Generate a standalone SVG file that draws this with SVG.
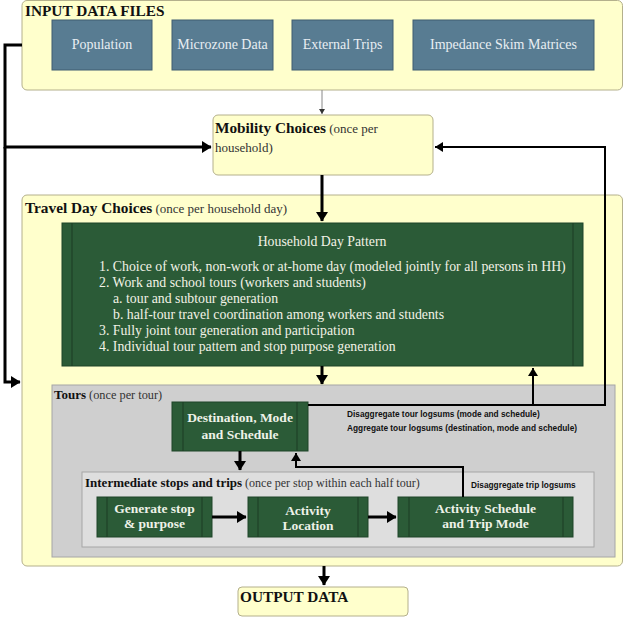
<svg xmlns="http://www.w3.org/2000/svg" width="624" height="617" viewBox="0 0 624 617">
<style>
.yel{fill:#FFFFCC;stroke:#B4B08C;stroke-width:1}
.blue{fill:#587C92;stroke:#3F5C70;stroke-width:1}
.grn{fill:#2B5B37;stroke:#1F4429;stroke-width:1}
.inner{stroke:#1C3D25;stroke-width:1}
.gray1{fill:#CFCFCF;stroke:#A6A6A6;stroke-width:1}
.gray2{fill:#DEDEDE;stroke:#A6A6A6;stroke-width:1}
.t{font-family:"Liberation Serif","Times New Roman",serif;font-size:15.3px;font-weight:bold;fill:#111}
.s{font-family:"Liberation Serif","Times New Roman",serif;font-size:13px;fill:#333}
.w{font-family:"Liberation Serif","Times New Roman",serif;font-size:13.8px;fill:#F2F2E6}
.wk{font-family:"Liberation Serif","Times New Roman",serif;font-size:13.5px;font-weight:bold;fill:#EEF2E8}
.wb{font-family:"Liberation Serif","Times New Roman",serif;font-size:14px;fill:#E8EEF2}
.lab{font-family:"Liberation Sans",Arial,sans-serif;font-size:8.3px;font-weight:bold;fill:#111}
.thick{stroke:#000;stroke-width:3;fill:none}
.med{stroke:#000;stroke-width:2;fill:none}
</style>
<defs>
<marker id="ah" markerWidth="4" markerHeight="4" refX="3" refY="2" orient="auto" markerUnits="strokeWidth">
<path d="M0,0 L3.2,2 L0,4 Z" fill="#000"/>
</marker>
<marker id="ahm" markerWidth="5" markerHeight="5" refX="4" refY="2.5" orient="auto" markerUnits="strokeWidth">
<path d="M0,0 L4,2.5 L0,5 Z" fill="#000"/>
</marker>
<marker id="ahs" markerWidth="6" markerHeight="6" refX="5" refY="3" orient="auto" markerUnits="strokeWidth">
<path d="M0,0 L5,3 L0,6 Z" fill="#333"/>
</marker>
</defs>

<g id="input-data-files">
<rect class="yel" x="22" y="0.5" width="600.5" height="89.5" rx="5"/>
<text class="t" x="25" y="16">INPUT DATA FILES</text>
</g>
<g id="population">
<rect class="blue" x="52" y="20" width="100" height="50"/>
<text class="wb" x="102" y="49" text-anchor="middle">Population</text>
</g>
<g id="microzone-data">
<rect class="blue" x="172" y="20" width="101" height="50"/>
<text class="wb" x="222.5" y="49" text-anchor="middle">Microzone Data</text>
</g>
<g id="external-trips">
<rect class="blue" x="292" y="20" width="101" height="50"/>
<text class="wb" x="342.5" y="49" text-anchor="middle">External Trips</text>
</g>
<g id="impedance-skim-matrices">
<rect class="blue" x="413" y="20" width="181" height="50"/>
<text class="wb" x="503.5" y="49" text-anchor="middle">Impedance Skim Matrices</text>
</g>

<g id="mobility-choices">
<rect class="yel" x="213" y="115" width="220" height="60" rx="5"/>
<text x="215" y="133"><tspan class="t">Mobility Choices</tspan><tspan class="s"> (once per</tspan></text>
<text class="s" x="215" y="152">household)</text>
</g>

<g id="travel-day-choices">
<rect class="yel" x="22" y="195" width="600.5" height="371" rx="5"/>
<text x="25" y="213"><tspan class="t">Travel Day Choices</tspan><tspan class="s"> (once per household day)</tspan></text>
</g>

<g id="household-day-pattern">
<rect class="grn" x="62" y="223" width="521" height="143"/>
<line class="inner" x1="72" y1="223" x2="72" y2="366"/>
<line class="inner" x1="573" y1="223" x2="573" y2="366"/>
<text class="w" x="322" y="246" text-anchor="middle">Household Day Pattern</text>
<text class="w" x="99" y="271">1. Choice of work, non-work or at-home day (modeled jointly for all persons in HH)</text>
<text class="w" x="99" y="287">2. Work and school tours (workers and students)</text>
<text class="w" x="113" y="303">a. tour and subtour generation</text>
<text class="w" x="113" y="319">b. half-tour travel coordination among workers and students</text>
<text class="w" x="99" y="335">3. Fully joint tour generation and participation</text>
<text class="w" x="99" y="351">4. Individual tour pattern and stop purpose generation</text>
</g>

<g id="tours">
<rect class="gray1" x="52" y="385" width="563" height="172"/>
<text x="54" y="399"><tspan class="t" style="font-size:13px">Tours</tspan><tspan class="s" style="font-size:12.3px"> (once per tour)</tspan></text>
</g>

<g id="destination-mode-schedule">
<rect class="grn" x="172" y="402" width="136" height="49"/>
<line class="inner" x1="183" y1="402" x2="183" y2="451"/>
<line class="inner" x1="297" y1="402" x2="297" y2="451"/>
<text class="wk" x="240" y="422" text-anchor="middle">Destination, Mode</text>
<text class="wk" x="240" y="439" text-anchor="middle">and Schedule</text>
</g>

<g id="intermediate-stops">
<rect class="gray2" x="82" y="472" width="512" height="75"/>
<text x="85" y="487"><tspan class="t" style="font-size:13px">Intermediate stops and trips</tspan><tspan class="s" style="font-size:12px"> (once per stop within each half tour)</tspan></text>
</g>

<g id="generate-stop">
<rect class="grn" x="97" y="497" width="115" height="40"/>
<line class="inner" x1="107" y1="497" x2="107" y2="537"/>
<line class="inner" x1="202" y1="497" x2="202" y2="537"/>
<text class="wk" x="154.5" y="513" text-anchor="middle">Generate stop</text>
<text class="wk" x="154.5" y="528" text-anchor="middle">&amp; purpose</text>
</g>

<g id="activity-location">
<rect class="grn" x="248" y="497" width="120" height="40"/>
<line class="inner" x1="258" y1="497" x2="258" y2="537"/>
<line class="inner" x1="358" y1="497" x2="358" y2="537"/>
<text class="wk" x="308" y="515" text-anchor="middle">Activity</text>
<text class="wk" x="308" y="530" text-anchor="middle">Location</text>
</g>

<g id="activity-schedule-trip-mode">
<rect class="grn" x="398" y="497" width="175" height="40"/>
<line class="inner" x1="409" y1="497" x2="409" y2="537"/>
<line class="inner" x1="563" y1="497" x2="563" y2="537"/>
<text class="wk" x="485.5" y="513" text-anchor="middle">Activity Schedule</text>
<text class="wk" x="485.5" y="528" text-anchor="middle">and Trip Mode</text>
</g>

<g id="output-data">
<rect class="yel" x="238" y="587" width="170" height="29" rx="4"/>
<text class="t" x="240" y="602">OUTPUT DATA</text>
</g>

<g id="connectors">
<line x1="322" y1="90" x2="322" y2="114" stroke="#888" stroke-width="1" marker-end="url(#ahs)"/>
<polyline class="thick" points="22,45 5,45 5,147 211,147" marker-end="url(#ah)"/>
<polyline class="thick" points="5,147 5,382 20,382" marker-end="url(#ah)"/>
<line class="thick" x1="322" y1="175" x2="322" y2="221" marker-end="url(#ah)"/>
<line class="thick" x1="322" y1="366" x2="322" y2="384" marker-end="url(#ah)"/>
<polyline class="med" points="308,405 605,405 605,147 435,147" marker-end="url(#ahm)"/>
<line class="med" x1="533" y1="405" x2="533" y2="368" marker-end="url(#ahm)"/>
<line class="thick" x1="240" y1="451" x2="240" y2="470" marker-end="url(#ah)"/>
<polyline class="med" points="463,497 463,467 296,467 296,453" marker-end="url(#ahm)"/>
<line class="thick" x1="212" y1="517" x2="246" y2="517" marker-end="url(#ah)"/>
<line class="thick" x1="368" y1="517" x2="396" y2="517" marker-end="url(#ah)"/>
<line class="thick" x1="324" y1="566" x2="324" y2="585" marker-end="url(#ah)"/>
<text class="lab" x="347" y="417">Disaggregate tour logsums (mode and schedule)</text>
<text class="lab" x="347" y="431">Aggregate tour logsums (destination, mode and schedule)</text>
<text class="lab" x="471" y="488">Disaggregate trip logsums</text>
</g>
</svg>
